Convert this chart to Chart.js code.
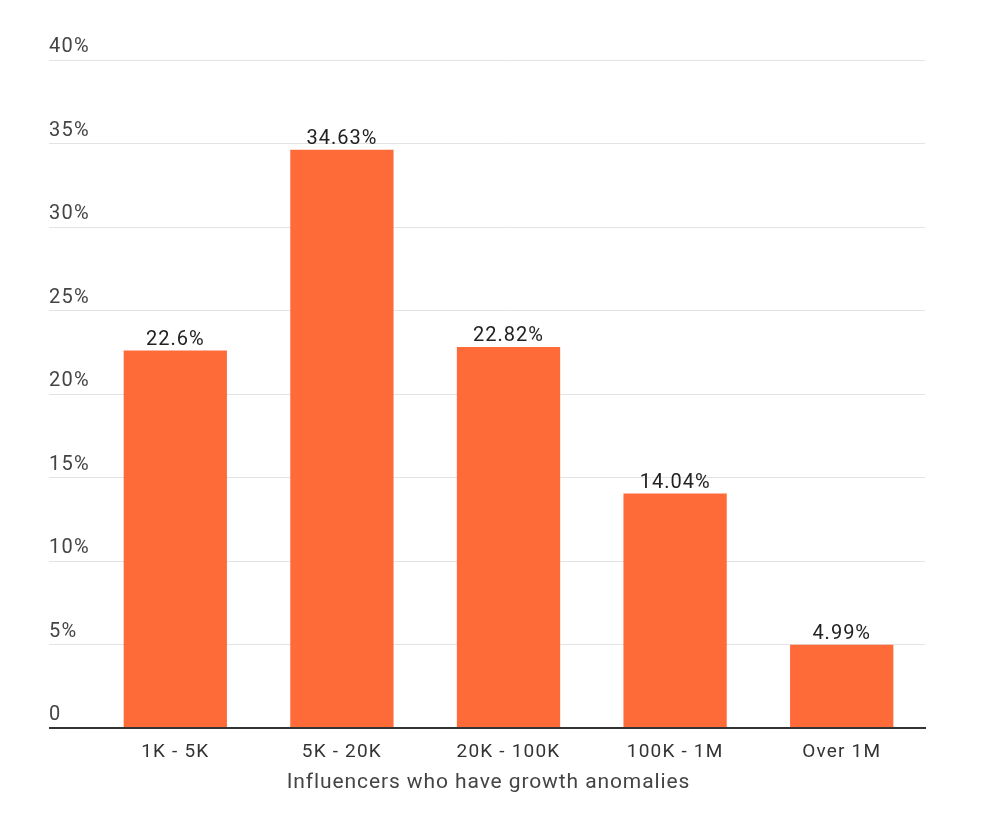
<!DOCTYPE html>
<html>
<head>
<meta charset="utf-8">
<script src="https://cdn.jsdelivr.net/npm/chart.js@4/dist/chart.umd.min.js"></script>
<style>
  html, body { margin: 0; padding: 0; background: #fff; }
  #wrap { width: 1000px; height: 839px; }
</style>
</head>
<body>
<div id="wrap"><canvas id="chart"></canvas></div>
<script>
const categories = ['1K - 5K', '5K - 20K', '20K - 100K', '100K - 1M', 'Over 1M'];
const shares = [22.6, 34.63, 22.82, 14.04, 4.99];
const yTicks = [0, 5, 10, 15, 20, 25, 30, 35, 40];
const axisTitle = 'Influencers who have growth anomalies';

// the source text is a little wider than plain Roboto
const spacing = {
  id: 'spacing',
  beforeDraw(chart){
    chart.ctx.letterSpacing = '1.2px';
  }
};

const barLabels = {
  id: 'barLabels',
  afterDatasetsDraw(chart){
    const ctx = chart.ctx;
    const meta = chart.getDatasetMeta(0);
    ctx.save();
    ctx.letterSpacing = '1px';
    ctx.font = '20px Roboto';
    ctx.fillStyle = '#222';
    ctx.textAlign = 'center';
    ctx.textBaseline = 'alphabetic';
    meta.data.forEach((bar, i) => {
      ctx.fillText(shares[i] + '%', bar.x, bar.y - 6);
    });
    ctx.restore();
  }
};

// axis title is centred on the full gridline span, not the plot area
const xTitle = {
  id: 'xTitle',
  afterDraw(chart){
    const ctx = chart.ctx;
    const area = chart.chartArea;
    const xs = chart.scales.x;
    ctx.save();
    ctx.letterSpacing = '0.9px';
    ctx.font = '21px Roboto';
    ctx.fillStyle = '#444';
    ctx.textAlign = 'center';
    ctx.textBaseline = 'middle';
    ctx.fillText(axisTitle, (area.left - 43 + area.right + 3) / 2, xs.bottom - 10);
    ctx.restore();
  }
};

new Chart(document.getElementById('chart'), {
  type: 'bar',
  data: {
    labels: categories,
    datasets: [{
      data: shares,
      backgroundColor: '#ff6a39',
      categoryPercentage: 1,
      barPercentage: 0.62
    }]
  },
  options: {
    responsive: true,
    maintainAspectRatio: false,
    animation: false,
    layout: { padding: { left: 49, right: 75, top: 60, bottom: 46 } },
    plugins: {
      legend: { display: false },
      tooltip: { enabled: false }
    },
    scales: {
      x: {
        z: 1,
        afterFit(scale){
          scale.height = 65;
        },
        grid: { display: false, drawTicks: false },
        border: { display: true, color: '#333', width: 2 },
        ticks: {
          padding: 13,
          color: '#333',
          font: { family: 'Roboto', size: 19 }
        }
      },
      y: {
        min: 0,
        max: 40,
        afterBuildTicks(scale){
          scale.ticks = yTicks.map(v => ({ value: v }));
        },
        afterFit(scale){
          scale.width = 43;
        },
        border: { display: false },
        grid: {
          tickLength: 43,
          color: ctx => ctx.tick && ctx.tick.value === 0 ? '#333' : '#e3e3e3',
          lineWidth: ctx => ctx.tick && ctx.tick.value === 0 ? 2 : 1
        },
        ticks: {
          crossAlign: 'far',
          labelOffset: -13,
          color: '#444',
          font: { family: 'Roboto', size: 20 },
          callback: v => v === 0 ? '0' : v + '%'
        }
      }
    }
  },
  plugins: [spacing, barLabels, xTitle]
});
</script>
</body>
</html>
